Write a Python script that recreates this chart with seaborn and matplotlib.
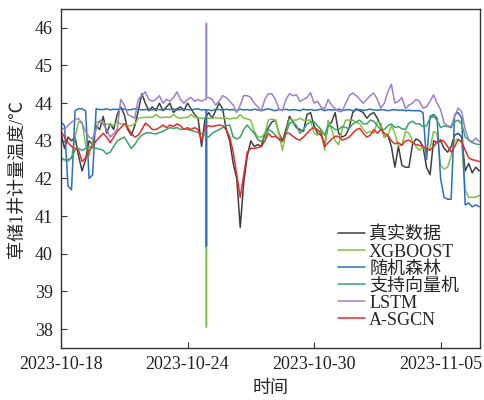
import pandas as pd
import matplotlib.pyplot as plt
import seaborn as sns

# --- datos (paso de 4 h desde 2023-10-18 00:00) ---
models = ['真实数据', 'XGBOOST', '随机森林', '支持向量机', 'LSTM', 'A-SGCN']
colors = ['#404040', '#7dc242', '#2b6fbd', '#37a568', '#9d80cc', '#ec2a2a']

times = pd.date_range('2023-10-18', periods=120, freq='4h')
spike_times = pd.to_datetime(['2023-10-24 21:20', '2023-10-24 21:30', '2023-10-24 21:40'])

real = [43.2, 42.8, 43.1, 43.0, 43.1, 42.6,
        42.2, 42.5, 43.0, 42.9, 43.4, 43.3,
        43.65, 43.2, 43.45, 43.3, 43.7, 43.9,
        43.7, 43.3, 43.15, 43.4, 43.8, 44.25,
        44.0, 43.8, 43.9, 43.8, 44.0, 43.8,
        43.9, 44.0, 43.75, 43.85, 43.9, 43.8,
        44.0, 43.85, 43.7, 43.6, 42.85, 43.6,
        43.75, 43.6, 43.8, 44.0, 43.85, 43.3,
        43.0, 42.4, 42.0, 40.7, 41.9, 42.6,
        43.0, 42.85, 42.9, 42.85, 43.2, 43.35,
        43.5, 43.55, 43.2, 43.0, 43.3, 43.65,
        43.5, 43.35, 43.3, 43.25, 43.7, 43.75,
        43.4, 43.2, 43.15, 42.9, 43.4, 43.5,
        43.75, 43.2, 43.1, 43.15, 43.35, 43.75,
        43.85, 43.8, 43.75, 43.6, 43.7, 43.75,
        43.6, 43.4, 43.1, 43.15, 42.85, 42.3,
        42.85, 42.35, 42.3, 42.3, 42.9, 43.05,
        43.0, 42.85, 42.3, 42.1, 43.0, 42.95,
        43.0, 42.8, 42.7, 42.85, 43.15, 43.2,
        43.1, 42.2, 42.4, 42.15, 42.3, 42.2]

xgb = [42.5, 42.5, 42.45, 42.55, 43.1, 43.5,
       43.5, 42.9, 42.6, 43.0, 43.5, 43.5,
       43.48, 43.45, 43.4, 43.42, 43.5, 43.45,
       43.45, 43.4, 43.4, 43.45, 43.6, 43.62,
       43.62, 43.63, 43.62, 43.7, 43.62, 43.62,
       43.63, 43.62, 43.7, 43.62, 43.6, 43.62,
       43.62, 43.7, 43.62, 43.62, 43.6, 43.6,
       43.6, 43.6, 43.62, 43.6, 43.6, 43.6,
       43.58, 43.6, 43.6, 43.7, 43.6, 43.58,
       43.55, 43.25, 43.1, 43.1, 43.2, 43.55,
       43.58, 43.55, 43.2, 42.75, 43.2, 43.58,
       43.55, 43.55, 43.6, 43.55, 43.55, 43.55,
       43.2, 43.15, 43.3, 42.75, 43.55, 43.3,
       43.0, 42.9, 43.3, 43.55, 43.55, 43.55,
       43.5, 43.45, 43.3, 43.2, 43.25, 43.2,
       43.5, 43.47, 43.1, 43.15, 43.4, 43.2,
       42.85, 42.9, 43.25, 43.2, 43.0, 42.85,
       42.75, 42.85, 42.7, 42.8, 43.25, 43.2,
       42.35, 42.25, 42.3, 42.6, 43.0, 43.05,
       42.95, 41.7, 41.5, 41.5, 41.5, 41.55]

rf = [43.5, 43.4, 41.8, 41.7, 43.8, 43.85,
      43.85, 43.8, 42.0, 42.1, 43.85, 43.83,
      43.83, 43.85, 43.82, 43.84, 43.83, 43.86,
      43.84, 43.82, 43.83, 43.85, 43.84, 43.82,
      43.83, 43.84, 43.82, 43.85, 43.83, 43.82,
      43.84, 43.83, 43.85, 43.82, 43.83, 43.84,
      43.83, 43.82, 43.84, 43.85, 43.82, 43.83,
      43.82, 43.8, 43.84, 43.83, 43.81, 43.84,
      43.82, 43.83, 43.8, 43.84, 43.82, 43.83,
      43.81, 43.84, 43.82, 43.8, 43.83, 43.85,
      43.82, 43.8, 43.83, 43.82, 43.84, 43.81,
      43.83, 43.82, 43.8, 43.84, 43.82, 43.83,
      43.81, 43.82, 43.84, 43.8, 43.83, 43.82,
      43.82, 43.84, 43.81, 43.82, 43.83, 43.8,
      43.82, 43.83, 43.81, 43.82, 43.84, 43.82,
      43.81, 43.83, 43.82, 43.8, 43.82, 43.83,
      43.81, 43.82, 43.8, 43.81, 43.8, 43.8,
      43.8, 43.75, 42.5, 43.65, 43.7, 43.6,
      42.0, 41.5, 41.45, 41.45, 43.7, 43.75,
      43.6, 41.3, 41.35, 41.25, 41.3, 41.25]

svm = [42.55, 42.5, 42.5, 42.55, 42.75, 42.8,
       42.75, 42.8, 42.85, 42.82, 42.8, 42.78,
       42.75, 42.65, 42.7, 42.85, 43.0, 43.05,
       43.1, 42.95, 42.8, 42.9, 43.05, 43.15,
       43.2, 43.22, 43.2, 43.18, 43.22, 43.25,
       43.3, 43.35, 43.33, 43.35, 43.3, 43.32,
       43.3, 43.28, 43.25, 43.22, 43.2, 43.15,
       43.1, 43.2, 43.25, 43.3, 43.35, 43.4,
       43.42, 43.1, 43.05, 43.1, 43.3, 43.42,
       43.3, 43.2, 43.03, 42.98, 43.1, 43.3,
       43.25, 43.15, 43.03, 42.98, 43.2, 43.47,
       43.5, 43.4, 43.2, 43.3, 43.45, 43.5,
       43.5, 43.4, 43.3, 43.15, 43.4, 43.38,
       43.3, 43.3, 43.38, 43.35, 43.33, 43.45,
       43.5, 43.55, 43.45, 43.45, 43.55, 43.52,
       43.4, 43.3, 43.3, 43.4, 43.45, 43.35,
       43.38, 43.32, 43.3, 43.47, 43.52, 43.45,
       43.45, 43.38, 43.4, 43.6, 43.65, 43.55,
       43.35, 43.4, 43.38, 43.35, 43.5, 43.55,
       43.45, 43.1, 43.02, 42.95, 42.92, 42.9]

lstm = [43.35, 43.3, 43.4, 43.5, 43.55, 43.6,
        43.45, 43.25, 43.1, 43.05, 43.3, 43.55,
        43.45, 43.3, 43.1, 43.2, 43.3, 44.1,
        43.95, 43.7, 43.65, 43.6, 44.1, 44.2,
        44.3, 44.1, 44.05, 44.1, 44.2, 44.0,
        44.1, 44.05, 44.15, 44.3, 44.1, 44.0,
        44.1, 44.15, 44.05, 44.1, 44.05, 44.1,
        44.15, 44.1, 43.95, 44.05, 44.2, 44.15,
        44.05, 43.95, 43.75, 43.95, 44.2, 44.2,
        44.15, 44.0, 43.9, 43.8, 44.1, 44.25,
        44.25, 44.1, 43.85, 43.8, 44.1, 44.25,
        44.2, 44.22, 44.05, 44.1, 44.15, 44.28,
        44.0, 44.05, 43.9, 43.85, 44.1, 43.95,
        43.85, 43.78, 43.78, 44.0, 44.2, 44.27,
        44.2, 44.1, 44.0, 44.1, 44.2, 44.27,
        44.1, 43.87, 44.0, 44.3, 44.5, 44.0,
        44.05, 44.15, 43.85, 43.95, 44.0, 44.1,
        44.05, 43.87, 43.9, 44.05, 44.22, 44.0,
        43.83, 43.47, 43.4, 43.38, 43.65, 43.87,
        43.78, 43.3, 43.03, 42.98, 43.07, 42.98]

sgcn = [43.25, 43.1, 42.95, 42.85, 42.8, 42.75,
        42.45, 42.55, 42.75, 42.85, 43.0, 43.1,
        43.2, 43.1, 42.95, 43.1, 43.25, 43.35,
        43.45, 43.35, 43.2, 43.1, 43.15, 43.3,
        43.47, 43.4, 43.3, 43.3, 43.35, 43.42,
        43.35, 43.42, 43.38, 43.45, 43.4, 43.3,
        43.35, 43.3, 43.35, 43.3, 43.0, 43.35,
        43.4, 43.38, 43.4, 43.42, 43.4, 43.3,
        43.1, 42.7, 42.1, 41.5, 42.1, 42.7,
        42.8, 42.8, 42.82, 42.85, 43.0, 43.2,
        43.1, 43.12, 43.05, 43.0, 43.2, 43.2,
        43.12, 43.05, 43.02, 43.1, 43.2, 43.3,
        43.35, 43.3, 43.2, 42.85, 42.95, 43.05,
        43.12, 43.12, 43.02, 43.05, 43.1, 43.2,
        43.3, 43.33, 43.2, 43.1, 43.15, 43.3,
        43.2, 43.3, 43.2, 43.15, 43.0, 42.92,
        42.95, 42.88, 43.0, 43.02, 42.95, 42.9,
        42.88, 42.85, 42.8, 42.75, 42.85, 42.97,
        43.03, 42.98, 42.85, 42.7, 42.85, 43.03,
        42.98, 42.75, 42.55, 42.5, 42.48, 42.45]

# picos del 2023-10-24 (solo tres modelos)
xgb_spike = [43.6, 38.05, 43.6]
rf_spike = [43.82, 40.2, 43.82]
lstm_spike = [44.1, 46.12, 44.15]

tick_dates = pd.to_datetime(['2023-10-18', '2023-10-24', '2023-10-30', '2023-11-05'])
tick_labels = ['2023-10-18', '2023-10-24', '2023-10-30', '2023-11-05']
y_ticks = [38, 39, 40, 41, 42, 43, 44, 45, 46]

# --- tabla larga ---
valores = dict(zip(models, [real, xgb, rf, svm, lstm, sgcn]))
picos = {'XGBOOST': xgb_spike, '随机森林': rf_spike, 'LSTM': lstm_spike}
frames = []
for name in models:
    t = list(times)
    v = list(valores[name])
    if name in picos:
        t += list(spike_times)
        v += picos[name]
    frames.append(pd.DataFrame({'时间': t, '温度': v, '模型': name}))
df = pd.concat(frames, ignore_index=True)

# --- gráfico ---
sns.set_style('ticks')
plt.rcParams['font.family'] = ['Liberation Serif', 'Noto Sans CJK SC']

fig = plt.figure(figsize=(4.84, 4.0), dpi=100)
ax = fig.add_axes([0.126, 0.13, 0.866, 0.8475])

sns.lineplot(data=df, x='时间', y='温度', hue='模型', hue_order=models,
             palette=dict(zip(models, colors)), estimator=None, linewidth=1.1, ax=ax)

ax.set_xlim(pd.Timestamp('2023-10-18 00:00'), pd.Timestamp('2023-11-06 21:00'))
ax.set_ylim(37.5, 46.5)
ax.set_xticks(tick_dates)
ax.set_xticklabels(tick_labels)
ax.set_yticks(y_ticks)
ax.tick_params(direction='in', length=4, width=0.8, labelsize=13, pad=6,
               top=False, right=False, colors='#333333', labelcolor='#222222')
for s in ax.spines.values():
    s.set_color('#333333')
    s.set_linewidth(1.0)

ax.set_xlabel('时间', fontsize=13, labelpad=5)
ax.set_ylabel('草储1井计量温度/℃', fontsize=13, labelpad=6)

sns.move_legend(ax, 'lower right', bbox_to_anchor=(0.98, 0.02), frameon=False,
                title=None, fontsize=13, handlelength=1.5, handletextpad=0.2,
                labelspacing=0.0, borderpad=0.2)

fig.savefig('out.png', dpi=100)
